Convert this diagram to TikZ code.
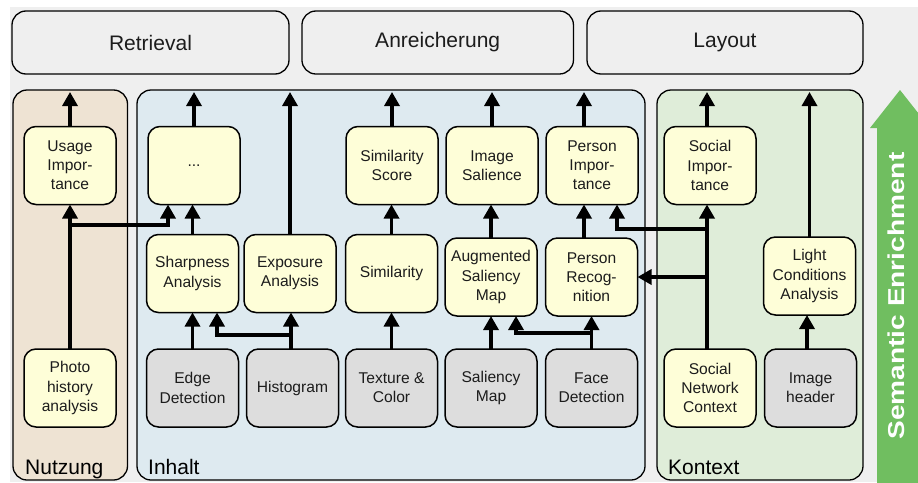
\documentclass[tikz,border=0pt]{standalone}
\usepackage{fontspec}
\setmainfont{Liberation Sans}
\usetikzlibrary{arrows.meta}

\definecolor{bggray}{RGB}{239,239,239}
\definecolor{nutzfill}{RGB}{238,227,211}
\definecolor{inhaltfill}{RGB}{222,234,240}
\definecolor{kontextfill}{RGB}{223,237,217}
\definecolor{procfill}{RGB}{254,254,216}
\definecolor{srcfill}{RGB}{221,221,221}
\definecolor{inktext}{RGB}{28,28,28}
\definecolor{enrichgreen}{RGB}{112,190,96}

\begin{document}
\begin{tikzpicture}[x=1pt,y=-1pt,
  layer/.style={draw=black, line width=1.3pt, rounded corners=14pt,
    inner sep=0pt, outer sep=0pt},
  topbox/.style={layer, fill=bggray, minimum height=63pt, text=inktext,
    font=\fontsize{21}{25}\selectfont},
  paneltitle/.style={anchor=base west, inner sep=0pt, text=black,
    font=\fontsize{21}{25}\selectfont},
  proc/.style={draw=black, line width=1.5pt, rounded corners=12pt,
    fill=procfill, minimum width=92pt, minimum height=78pt, inner sep=0pt,
    outer sep=0pt, align=center, text=inktext,
    font=\fontsize{15.6}{19.2}\selectfont},
  src/.style={proc, fill=srcfill},
  flow/.style={draw=black, line width=3.3pt,
    -{Triangle[width=15pt,length=14pt]}},
  link/.style={draw=black, line width=3.3pt}
]
\useasboundingbox (0,0) rectangle (918,482);

% backdrop
\fill[white] (0,0) rectangle (918,482);
\fill[bggray] (10,7) rectangle (918,482);

% usage level
\node[topbox, minimum width=277pt] (retrieval) at (150.5,42.5) {Retrieval};
\node[topbox, minimum width=271.5pt] (anreich) at (437.7,42.5) {Anreicherung};
\node[topbox, minimum width=276pt] (layout) at (725,42.5) {Layout};

% source panels
\node[layer, fill=nutzfill, minimum width=114.5pt, minimum height=390pt] (nutzung) at (70.25,285) {};
\node[layer, fill=inhaltfill, minimum width=508pt, minimum height=390pt] (inhalt) at (391,285) {};
\node[layer, fill=kontextfill, minimum width=206pt, minimum height=390pt] (kontext) at (760,285) {};

\node[paneltitle] (nutzlabel) at (25,474) {Nutzung};
\node[paneltitle] (inhaltlabel) at (148,474) {Inhalt};
\node[paneltitle] (kontextlabel) at (668,474) {Kontext};

% semantic enrichment arrow
\fill[enrichgreen] (877,490) -- (877,128) -- (870,128) -- (900,90)
  -- (930,128) -- (923,128) -- (923,490) -- cycle;
\node[rotate=90, text=white, inner sep=0pt,
  font=\fontsize{23}{27}\selectfont\bfseries] (enrich) at (896,296)
  {\scalebox{1.22}[1]{Semantic Enrichment}};

% top row
\node[proc] (usage) at (70,165.5) {Usage\\Impor-\\tance};
\node[proc] (dots) at (194,165.5) {...};
\node[proc] (simscore) at (392,165.5) {Similarity\\Score};
\node[proc] (salience) at (492,165.5) {Image\\Salience};
\node[proc] (pimp) at (592,165.5) {Person\\Impor-\\tance};
\node[proc] (socimp) at (710,165.5) {Social\\Impor-\\tance};

% middle row
\node[proc] (sharp) at (192.5,273.5) {Sharpness\\Analysis};
\node[proc] (expo) at (290,273.5) {Exposure\\Analysis};
\node[proc] (simil) at (391.5,273.5) {Similarity};
\node[proc] (augm) at (491,277) {Augmented\\Saliency\\Map};
\node[proc] (precog) at (591.5,277) {Person\\Recog-\\nition};
\node[proc] (light) at (809.5,276) {Light\\Conditions\\Analysis};

% bottom row
\node[proc] (photo) at (70,388) {Photo\\history\\analysis};
\node[src] (edge) at (192.5,388) {Edge\\Detection};
\node[src] (histo) at (292.5,388) {Histogram};
\node[src] (texture) at (391.5,388) {Texture \&\\Color};
\node[src] (salmap) at (491,388) {Saliency\\Map};
\node[src] (face) at (591.5,388) {Face\\Detection};
\node[proc] (social) at (710,388) {Social\\Network\\Context};
\node[src] (header) at (810.5,388) {Image\\header};

% junctions and panel top line
\coordinate (topline) at (0,92);
\coordinate (jphoto) at (70,225);
\coordinate (jhisto) at (291,335);
\coordinate (jface) at (591.5,333);
\coordinate (jsocA) at (707,229);
\coordinate (jsocB) at (707,277);

% Nutzung
\draw[flow] (photo.north) -- (usage.south);
\draw[flow] (jphoto) -| ([xshift=-26pt]dots.south);
\draw[flow] (usage.north) -- (usage.north |- topline);

% Inhalt
\draw[flow] (edge.north) -- (edge.north |- sharp.south);
\draw[flow] ([xshift=-1.5pt]histo.north) -- ([xshift=-1.5pt]histo.north |- expo.south);
\draw[flow] (jhisto) -| ([xshift=24.5pt]sharp.south);
\draw[flow] (sharp.north) -- (sharp.north |- dots.south);
\draw[flow] (dots.north) -- (dots.north |- topline);
\draw[flow] (expo.north) -- (expo.north |- topline);
\draw[flow] (texture.north) -- (texture.north |- simil.south);
\draw[flow] (simil.north) -- (simil.north |- simscore.south);
\draw[flow] (simscore.north) -- (simscore.north |- topline);
\draw[flow] (salmap.north) -- (salmap.north |- augm.south);
\draw[flow] (augm.north) -- (augm.north |- salience.south);
\draw[flow] (salience.north) -- (salience.north |- topline);
\draw[flow] (face.north) -- (face.north |- precog.south);
\draw[flow] (jface) -| ([xshift=25pt]augm.south);
\draw[flow] ([xshift=-7.5pt]precog.north) -- ([xshift=-7.5pt]precog.north |- pimp.south);
\draw[flow] ([xshift=-8pt]pimp.north) -- ([xshift=-8pt]pimp.north |- topline);

% Kontext
\draw[flow] ([xshift=-3pt]social.north) -- ([xshift=-3pt]social.north |- socimp.south);
\draw[flow] (jsocA) -| ([xshift=25pt]pimp.south);
\draw[flow] (jsocB) -- (precog.east);
\draw[flow] ([xshift=-3pt]socimp.north) -- ([xshift=-3pt]socimp.north |- topline);
\draw[flow] ([xshift=-3.5pt]header.north) -- ([xshift=-3.5pt]header.north |- light.south);
\draw[flow] (light.north) -- (light.north |- topline);
\end{tikzpicture}
\end{document}
